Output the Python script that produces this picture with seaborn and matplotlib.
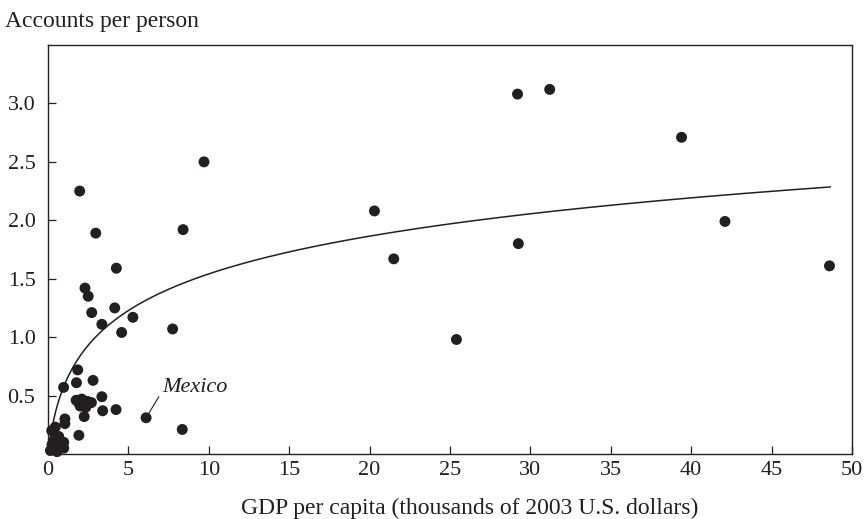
import numpy as np
import pandas as pd
import matplotlib
matplotlib.use("Agg")
import matplotlib.pyplot as plt
import seaborn as sns

# ---- data ----
gdp_per_capita = [
    29.2, 31.2, 39.4, 42.1, 29.25, 48.6, 25.4, 20.3, 21.5, 9.7,
    8.4, 7.75, 8.35, 6.1, 1.97, 2.97, 4.25, 2.3, 2.5, 2.72,
    3.35, 4.15, 5.28, 4.58, 1.85, 1.77, 2.8, 0.97, 3.35,
    1.75, 1.95, 2.1, 2.25, 2.45, 2.7, 2.0, 2.35,
    3.4, 4.23, 2.25, 1.05, 1.05, 0.45, 1.92,
    0.23, 0.67, 0.98, 0.25, 0.77, 0.15, 0.56, 0.98, 0.4,
]
accounts_per_person = [
    3.08, 3.12, 2.71, 1.99, 1.80, 1.61, 0.98, 2.08, 1.67, 2.50,
    1.92, 1.07, 0.21, 0.31, 2.25, 1.89, 1.59, 1.42, 1.35, 1.21,
    1.11, 1.25, 1.17, 1.04, 0.72, 0.61, 0.63, 0.57, 0.49,
    0.46, 0.43, 0.47, 0.43, 0.45, 0.44, 0.41, 0.40,
    0.37, 0.38, 0.32, 0.30, 0.26, 0.23, 0.16,
    0.20, 0.15, 0.10, 0.08, 0.06, 0.03, 0.02, 0.05, 0.12,
]
label_country = "Mexico"
label_gdp = 6.1
label_accounts = 0.31

# fitted trend: accounts = FIT_B * ln(1 + gdp / FIT_C)
FIT_B = 0.48
FIT_C = 0.42
fit_x_max = 48.66

x_ticks = [0, 5, 10, 15, 20, 25, 30, 35, 40, 45, 50]
y_ticks = [0.5, 1.0, 1.5, 2.0, 2.5, 3.0]
y_tick_labels = ["0.5", "1.0", "1.5", "2.0", "2.5", "3.0"]

df = pd.DataFrame({"gdp": gdp_per_capita, "accounts": accounts_per_person})
fit_grid = np.linspace(0, fit_x_max, 400)
fit_df = pd.DataFrame({"gdp": fit_grid,
                       "accounts": FIT_B * np.log1p(fit_grid / FIT_C)})

# ---- style ----
sns.set_theme(style="ticks")
plt.rcParams["font.family"] = ["Liberation Serif", "DejaVu Serif"]
INK = "#231f20"
FS = 16

fig = plt.figure(figsize=(8.65, 5.19), dpi=100)
ax = fig.add_axes([48 / 865, 1 - 454 / 519, (852 - 48) / 865, (454 - 45) / 519])

sns.lineplot(data=fit_df, x="gdp", y="accounts", ax=ax, color=INK,
             linewidth=1.1, zorder=2)
sns.scatterplot(data=df, x="gdp", y="accounts", ax=ax, color=INK,
                s=62, edgecolor="none", linewidth=0, zorder=3, clip_on=False)

ax.set_xlim(0, 50)
ax.set_ylim(0, 3.5)
ax.set_xticks(x_ticks)
ax.set_yticks(y_ticks)
ax.set_yticklabels(y_tick_labels)
ax.set_xlabel("GDP per capita (thousands of 2003 U.S. dollars)",
              fontsize=17, color=INK)
ax.xaxis.set_label_coords(0.525, -0.132)
ax.xaxis.label.set_va("center")
ax.set_ylabel("")
ax.tick_params(axis="both", direction="in", length=6, width=0.9,
               colors=INK, labelsize=FS)
ax.tick_params(axis="y", pad=9)
ax.tick_params(axis="x", pad=5)
for sp in ax.spines.values():
    sp.set_visible(True)
    sp.set_color(INK)
    sp.set_linewidth(1.0)

fig.text(5 / 865, 1 - 22 / 519, "Accounts per person", fontsize=17,
         color=INK, ha="left", va="center")

ax.annotate(label_country, xy=(label_gdp, label_accounts),
            xytext=(7.1, 0.57), textcoords="data",
            fontsize=16, fontstyle="italic", color=INK,
            ha="left", va="center",
            arrowprops=dict(arrowstyle="-", color=INK, lw=0.8,
                            shrinkA=0, shrinkB=4, relpos=(0.0, 0.3)))

fig.savefig("out.png", dpi=100)
